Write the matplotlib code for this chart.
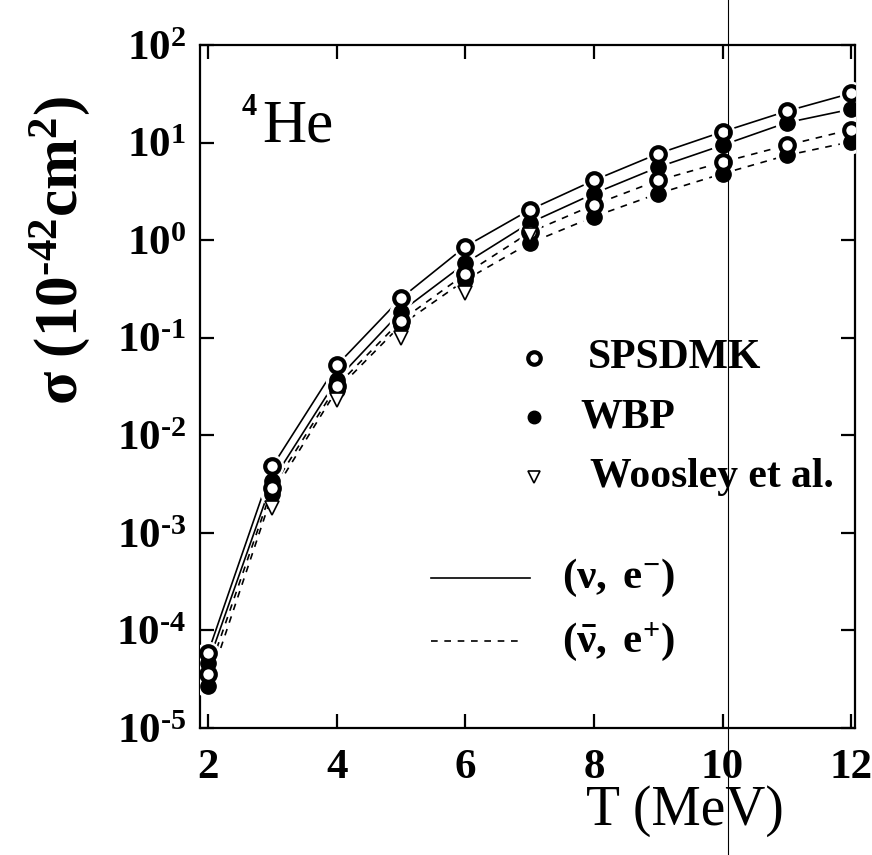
import numpy as np
import matplotlib
matplotlib.use('Agg')
import matplotlib.pyplot as plt
from matplotlib.lines import Line2D
from matplotlib.ticker import NullLocator, FixedLocator, FuncFormatter

plt.rcParams['font.family'] = 'Liberation Serif'
plt.rcParams['mathtext.fontset'] = 'custom'
plt.rcParams['mathtext.rm'] = 'Liberation Serif'
plt.rcParams['mathtext.bf'] = 'Liberation Serif:bold'
plt.rcParams['mathtext.it'] = 'Liberation Serif:italic'

# neutrino temperature (MeV)
energy = [2, 3, 4, 5, 6, 7, 8, 9, 10, 11, 12]

# cross sections in 10^-42 cm^2
sps_nu = [5.9e-5, 4.8e-3, 0.052, 0.254, 0.86, 2.04, 4.1, 7.7, 12.9, 21.0, 32.0]
wbp_nu = [4.6e-5, 3.4e-3, 0.037, 0.185, 0.58, 1.5, 3.0, 5.6, 9.4, 16.0, 22.0]
sps_nubar = [3.6e-5, 2.9e-3, 0.032, 0.15, 0.45, 1.2, 2.3, 4.1, 6.3, 9.4, 13.6]
wbp_nubar = [2.7e-5, 2.5e-3, 0.029, 0.135, 0.39, 0.93, 1.74, 3.0, 4.8, 7.4, 10.2]

woosley_energy = [3, 4, 5, 6, 7]
woosley = [1.8e-3, 0.023, 0.10, 0.29, 1.13]

x_ticks = [2, 4, 6, 8, 10, 12]
y_decades = [-5, -4, -3, -2, -1, 0, 1, 2]

fig = plt.figure(figsize=(8.72, 8.55), dpi=100)
ax = fig.add_axes([200 / 872, 1 - 728 / 855, 655 / 872, 683 / 855])
ax.set_yscale('log')
ax.set_ylim(1e-5, 1e2)
ax.set_xlim(1.875, 12.06)

# curves first, then white halos so the lines break at the symbols
for vals, ls in [(sps_nu, '-'), (wbp_nu, '-'), (sps_nubar, '--'), (wbp_nubar, '--')]:
    ax.plot(energy, vals, color='k', ls=ls, lw=1.2, dashes=(4, 4) if ls == '--' else (None, None), zorder=2)

for vals in [sps_nu, wbp_nu, sps_nubar, wbp_nubar]:
    ax.plot(energy, vals, ls='none', marker='o', ms=16, mfc='white', mec='white', zorder=3)

for vals in [wbp_nu, wbp_nubar]:
    ax.plot(energy, vals, ls='none', marker='o', ms=11, mfc='k', mec='k', zorder=4)
for vals in [sps_nu, sps_nubar]:
    ax.plot(energy, vals, ls='none', marker='o', ms=10.5, mfc='white', mec='k', mew=3, zorder=5)
ax.plot(woosley_energy, woosley, ls='none', marker='v', ms=10, mfc='white', mec='k', mew=1.2, zorder=6)

# axes styling
for s in ax.spines.values():
    s.set_linewidth(1.6)
ax.yaxis.set_major_locator(FixedLocator([10.0 ** d for d in y_decades]))
ax.yaxis.set_minor_locator(NullLocator())
ax.set_xticks(x_ticks, labels=[str(t) for t in x_ticks], fontweight='bold')
ax.yaxis.set_major_formatter(FuncFormatter(
    lambda v, _: r'$\mathbf{10^{%s}}$' % str(round(np.log10(v))).replace('-', '\u2010')))
ax.tick_params(which='both', direction='in', top=True, right=True, length=10, width=1.6, labelsize=31)
ax.tick_params(axis='x', pad=15)
ax.tick_params(axis='y', pad=10)

ax.set_ylabel('$\\mathbf{σ\\ (10^{\u201042}cm^{2})}$', fontsize=44)
ax.yaxis.set_label_coords(-0.165, 0.70)
ax.set_xlabel('T (MeV)', fontsize=40)
ax.xaxis.set_label_coords(0.74, -0.083)

# nucleus label
ax.text(0.095, 0.858, 'He', fontsize=44, transform=ax.transAxes, va='baseline')
ax.text(0.064, 0.898, '4', fontsize=22, fontweight='bold', transform=ax.transAxes, va='baseline')

# key
key = [('o', 'white', 3, 'SPSDMK', 0.592, 0.542),
       ('o', 'k', 1, 'WBP', 0.580, 0.455),
       ('v', 'white', 1.2, 'Woosley et al.', 0.595, 0.368)]
for mk, fc, mw, txt, tx, ty in key:
    ax.plot([0.51], [ty], transform=ax.transAxes, marker=mk, ms=9, mfc=fc, mec='k', mew=mw, ls='none', clip_on=False)
    ax.text(tx, ty, txt, fontsize=30, fontweight='bold', transform=ax.transAxes, va='center')

ax.plot([0.352, 0.504], [0.220, 0.220], transform=ax.transAxes, color='k', lw=1.2)
ax.plot([0.352, 0.495], [0.128, 0.128], transform=ax.transAxes, color='k', lw=1.2, ls='--', dashes=(4, 4))
ax.text(0.552, 0.220, r'$\mathbf{(ν,\ e^{-})}$', fontsize=31, transform=ax.transAxes, va='center')
ax.text(0.552, 0.126, r'$\mathbf{(\bar{ν},\ e^{+})}$', fontsize=31, transform=ax.transAxes, va='center')

# thin vertical rule crossing the whole sheet
fig.add_artist(Line2D([728 / 872, 728 / 872], [0, 1], color='k', lw=0.8))

fig.savefig('out.png', dpi=100, facecolor='white')
